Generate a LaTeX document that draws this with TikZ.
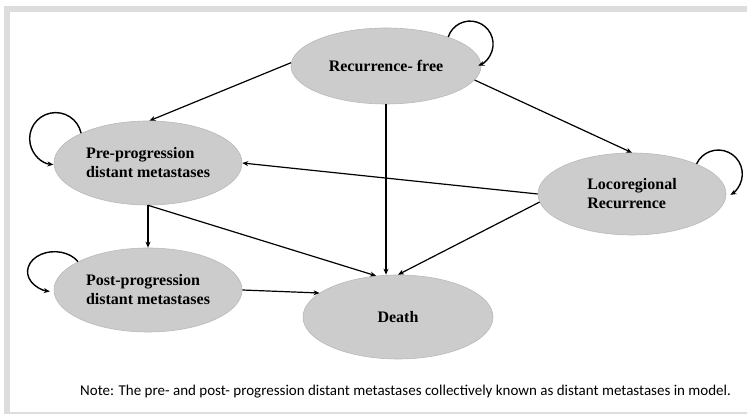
\documentclass[tikz,border=0pt]{standalone}
\usepackage{fontspec}
\setmainfont{Liberation Serif}
\newfontfamily\notefont{Carlito}
\usetikzlibrary{shapes.geometric,arrows.meta}
\definecolor{ellfill}{RGB}{204,204,204}
\definecolor{elldraw}{RGB}{185,185,185}
\definecolor{framegray}{RGB}{221,221,221}
\tikzset{
  state/.style={ellipse, fill=ellfill, draw=elldraw, line width=0.6pt, inner sep=0pt,
    font=\fontsize{16}{19}\selectfont\bfseries, align=left},
  arr/.style={-{Stealth[length=6pt,width=5pt]}, line width=1.2pt, black},
  selfloop/.style={arr, line width=1.4pt}
}
\begin{document}
\begin{tikzpicture}[x=1pt,y=1pt]
\useasboundingbox (0,0) rectangle (747,414);
% frame
\fill[framegray] (4,402) rectangle (747,408);
\fill[framegray] (4,0) rectangle (10,408);
\fill[framegray] (10,0) rectangle (747,2);
% states
\node[state, minimum width=190, minimum height=76] (rf) at (386,348) {Recurrence- free};
\node[state, minimum width=188, minimum height=84] (pre) at (148,251) {Pre-progression\\distant metastases};
\node[state, minimum width=188, minimum height=82] (loco) at (632,220) {Locoregional\\Recurrence};
\node[state, minimum width=188, minimum height=84] (post) at (148,124) {Post-progression\\distant metastases};
\node[state, minimum width=190, minimum height=84] (death) at (398,97) {Death};
% transitions
\draw[arr] (rf.178) -- (pre.88);
\draw[arr] (rf.-9) -- (loco.north);
\draw[arr] (rf.south) -- (rf.south |- death.north);
\draw[arr] (loco.west) -- (pre.east);
\draw[arr] (loco.185) -- (death.north);
\draw[arr] (pre.south) -- (post.north);
\draw[arr] (pre.south) -- (death.118);
\draw[arr] (post.east) -- (death.163);
% self loops
\draw[selfloop] (rf.25) arc[start angle=162, end angle=-69, radius=23];
\draw[selfloop] (pre.156) arc[start angle=12, end angle=265, radius=26];
\draw[selfloop] (loco.25) arc[start angle=155, end angle=-60, radius=24];
\draw[selfloop] (post.158) arc[start angle=30, end angle=260, x radius=27, y radius=20];
% note
\node[anchor=west, font=\notefont\fontsize{15}{17}\selectfont, inner sep=0pt] (note) at (80,22)
  {Note: The pre- and post- progression distant metastases collectively known as distant metastases in model.};
\end{tikzpicture}
\end{document}
